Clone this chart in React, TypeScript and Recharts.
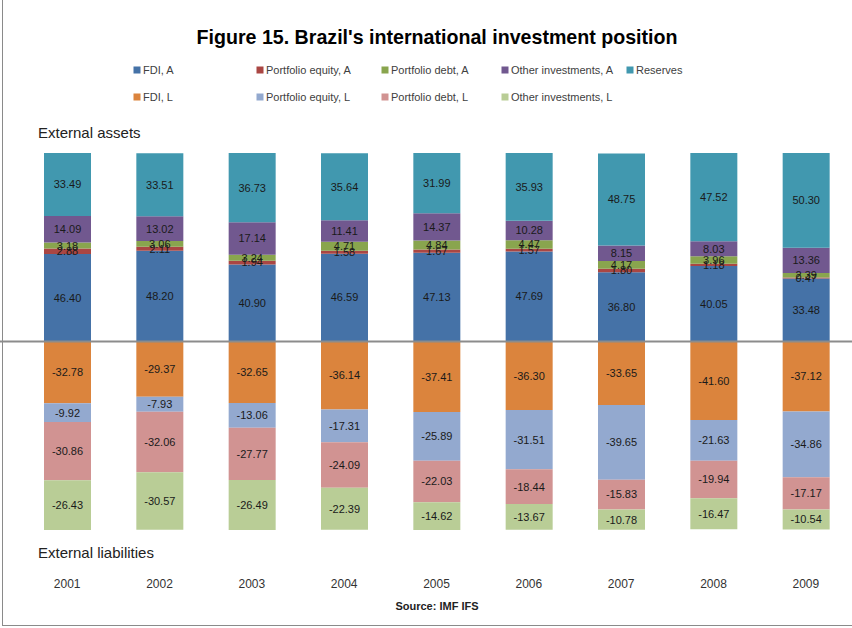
import React from 'react';
import { BarChart, Bar, XAxis, YAxis, ReferenceLine, LabelList } from 'recharts';

const years = ['2001', '2002', '2003', '2004', '2005', '2006', '2007', '2008', '2009'];

// External assets (% of total assets)
const fdiA = [46.4, 48.2, 40.9, 46.59, 47.13, 47.69, 36.8, 40.05, 33.48];
const portEqA = [2.88, 2.11, 1.94, 1.58, 1.67, 1.57, 1.8, 1.18, 0.47];
const portDebtA = [3.18, 3.06, 3.24, 4.71, 4.84, 4.47, 4.17, 3.96, 2.39];
const otherA = [14.09, 13.02, 17.14, 11.41, 14.37, 10.28, 8.15, 8.03, 13.36];
const reserves = [33.49, 33.51, 36.73, 35.64, 31.99, 35.93, 48.75, 47.52, 50.3];

// External liabilities (% of total liabilities)
const fdiL = [-32.78, -29.37, -32.65, -36.14, -37.41, -36.3, -33.65, -41.6, -37.12];
const portEqL = [-9.92, -7.93, -13.06, -17.31, -25.89, -31.51, -39.65, -21.63, -34.86];
const portDebtL = [-30.86, -32.06, -27.77, -24.09, -22.03, -18.44, -15.83, -19.94, -17.17];
const otherL = [-26.43, -30.57, -26.49, -22.39, -14.62, -13.67, -10.78, -16.47, -10.54];

const series = [
  { key: 'fdiA', name: 'FDI, A', color: '#4572A7', values: fdiA },
  { key: 'portEqA', name: 'Portfolio equity, A', color: '#AA4643', values: portEqA },
  { key: 'portDebtA', name: 'Portfolio debt, A', color: '#89A54E', values: portDebtA },
  { key: 'otherA', name: 'Other investments, A', color: '#71588F', values: otherA },
  { key: 'reserves', name: 'Reserves', color: '#4198AF', values: reserves },
  { key: 'fdiL', name: 'FDI, L', color: '#DB843D', values: fdiL },
  { key: 'portEqL', name: 'Portfolio equity, L', color: '#93A9CF', values: portEqL },
  { key: 'portDebtL', name: 'Portfolio debt, L', color: '#D19392', values: portDebtL },
  { key: 'otherL', name: 'Other investments, L', color: '#B9CD96', values: otherL },
];

const data = years.map((year, i) => {
  const row: Record<string, any> = { year };
  series.forEach((s) => {
    row[s.key] = s.values[i];
  });
  return row;
});

const legendCols = [137, 260, 385, 505, 630];
const legendRows = [70, 97];

const FONT = "'Liberation Sans', Arial, sans-serif";
const NARROW = "'Liberation Sans Narrow', 'Liberation Sans', Arial, sans-serif";

const YearTick = (props: any) => {
  const { x, y, payload } = props;
  return (
    <text x={x} y={y} dy={50} textAnchor="middle" fontSize={12} fontFamily={NARROW} fill="#333">
      {payload.value}
    </text>
  );
};

export default function App() {
  const legendItems = series.map((s, i) => {
    const row = i < 5 ? 0 : 1;
    const col = i < 5 ? i : i - 5;
    return { ...s, x: legendCols[col], y: legendRows[row] };
  });
  return (
    <div style={{ position: 'absolute', left: 0, top: 0, width: 852, height: 628, background: '#fff', overflow: 'hidden' }}>
      <div style={{ position: 'absolute', left: 2, top: -1, width: 900, height: 627, border: '1px solid #8a8a8a', boxSizing: 'border-box' }} />
      <BarChart
        width={852}
        height={628}
        data={data}
        stackOffset="sign"
        margin={{ top: 153, right: 0, bottom: 38, left: 0 }}
      >
        <XAxis
          dataKey="year"
          padding={{ left: 21, right: 0 }}
          axisLine={false}
          tickLine={false}
          height={60}
          tick={<YearTick />}
          interval={0}
        />
        <YAxis hide domain={[-100, 100]} allowDataOverflow />
        {series.map((s) => (
          <Bar key={s.key} dataKey={s.key} name={s.name} stackId="a" fill={s.color} barSize={47} isAnimationActive={false}>
            <LabelList
              dataKey={s.key}
              position="center"
              formatter={(v: any) => Number(v).toFixed(2)}
              fill="#1a1a1a"
              fontSize={11}
              fontFamily={FONT}
            />
          </Bar>
        ))}
        <ReferenceLine y={0} stroke="#8c8c8c" strokeWidth={2} ifOverflow="extendDomain" />
      </BarChart>
      <svg width={852} height={628} style={{ position: 'absolute', left: 0, top: 0, pointerEvents: 'none' }}>
        <text x={437} y={44} textAnchor="middle" fontSize={21} fontWeight="bold" fontFamily={NARROW} fill="#000" textLength={481} lengthAdjust="spacingAndGlyphs">
          Figure 15. Brazil's international investment position
        </text>
        {legendItems.map((it) => (
          <g key={it.key}>
            <rect x={it.x - 3.5} y={it.y - 3.5} width={7} height={7} fill={it.color} />
            <text x={it.x + 6} y={it.y + 3.5} fontSize={11} fontFamily={NARROW} fill="#404040">
              {it.name}
            </text>
          </g>
        ))}
        <text x={38} y={138} fontSize={15} fontFamily={FONT} fill="#222">External assets</text>
        <text x={38} y={558} fontSize={15} fontFamily={FONT} fill="#222">External liabilities</text>
        <text x={437} y={610} textAnchor="middle" fontSize={11} fontWeight="bold" fontFamily={NARROW} fill="#222">Source: IMF IFS</text>
      </svg>
    </div>
  );
}
